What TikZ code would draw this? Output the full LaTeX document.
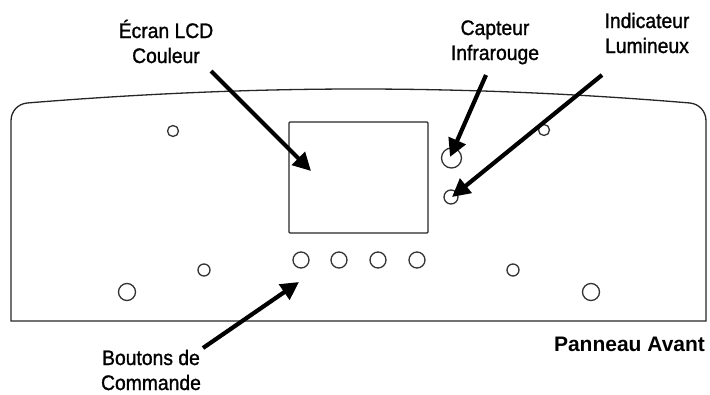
\documentclass[tikz,border=0pt]{standalone}
\usepackage{fontspec}
\setmainfont{Liberation Sans}
\newfontfamily\labelfont[FakeStretch=0.92,FakeBold=1.2]{Liberation Sans}
\usetikzlibrary{arrows.meta}
\tikzset{
  panel/.style={draw=black!85,line width=1.3pt},
  hole/.style={circle,draw=black!80,line width=1.3pt,inner sep=0pt,minimum size=#1,fill=none},
  callout/.style={font=\labelfont\fontsize{21}{25}\selectfont,align=center,inner sep=0pt,text=black,anchor=base},
  pointer/.style={line width=4.2pt,-{Triangle[length=18pt,width=18pt]},black},
}
\begin{document}
\begin{tikzpicture}[x=1pt,y=-1pt]
\useasboundingbox (0,0) rectangle (710,394);
% panel
\draw[panel] (11,321) -- (11,121) .. controls (11,111) and (18,104) .. (27,103)
  .. controls (150,93) and (260,89) .. (358,89)
  .. controls (460,89) and (570,93) .. (690,103)
  .. controls (699,104) and (706,111) .. (706,121) -- (706,321) -- cycle;
\node[panel,draw,rectangle,rounded corners=1pt,minimum width=139pt,minimum height=111pt,inner sep=0pt] (screen) at (358.5,177.5) {};
\node[hole=11pt] (h1) at (173,131) {};
\node[hole=11pt] (h2) at (544,130) {};
\node[hole=20pt] (ir) at (451.5,158) {};
\node[hole=14pt] (led) at (451,197) {};
\node[hole=16pt] (b1) at (301,260) {};
\node[hole=16pt] (b2) at (339,260) {};
\node[hole=16pt] (b3) at (378,260) {};
\node[hole=16pt] (b4) at (417,260) {};
\node[hole=12pt] (h3) at (204,270) {};
\node[hole=12pt] (h4) at (513,270) {};
\node[hole=17pt] (h5) at (127,292) {};
\node[hole=17pt] (h6) at (591,292) {};
% labels
\node[callout] (lcd) at (166,63) {Écran LCD\\Couleur};
\node[callout] (capteur) at (495,60) {Capteur\\Infrarouge};
\node[callout] (indic) at (647,53) {Indicateur\\Lumineux};
\node[callout] (boutons) at (151,390) {Boutons de\\Commande};
\node[font=\bfseries\fontsize{21}{24}\selectfont,inner sep=0pt,anchor=base] (title) at (629.5,351) {Panneau Avant};
% arrow ends
\coordinate (a1) at (211,71); \coordinate (a2) at (311,171);
\coordinate (c1) at (486,75); \coordinate (c2) at (450,157);
\coordinate (i1) at (602,75); \coordinate (i2) at (452,197);
\coordinate (o1) at (203,348); \coordinate (o2) at (299,282);
\draw[pointer] (a1) -- (a2);
\draw[pointer] (c1) -- (c2);
\draw[pointer] (i1) -- (i2);
\draw[pointer] (o1) -- (o2);
\end{tikzpicture}
\end{document}
